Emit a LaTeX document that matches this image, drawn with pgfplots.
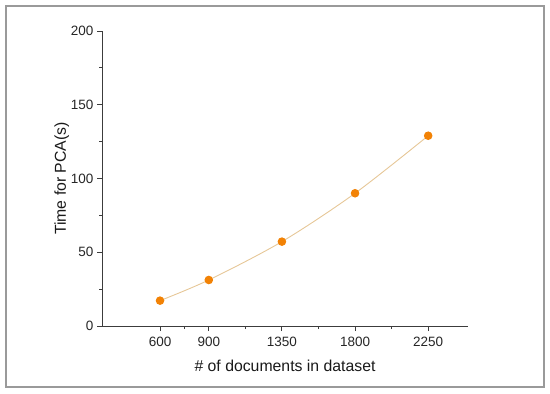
\documentclass[border=0pt]{standalone}
\usepackage{fontspec}
\setmainfont{Liberation Sans}
\usepackage{pgfplots}
\pgfplotsset{compat=1.18}
\definecolor{ptorange}{HTML}{F28205}
\definecolor{linetan}{HTML}{E6C797}
\definecolor{axgray}{HTML}{3C3C3C}
\definecolor{framegray}{HTML}{9A9A9A}

\begin{document}
\begin{tikzpicture}[x=1bp,y=1bp]
\path (0,0) rectangle (550,393);
\draw[framegray, line width=1.2bp] (6,6) rectangle (544,387);
\begin{axis}[
  at={(102bp,67bp)}, anchor=south west,
  scale only axis, width=366bp, height=295bp,
  xmin=243, xmax=2495, ymin=0, ymax=200,
  axis x line*=bottom, axis y line*=left,
  axis line style={axgray, line width=0.9bp},
  tick style={axgray, line width=0.9bp},
  tick align=outside,
  major tick length=5bp, minor tick length=3bp,
  xtick={600,900,1350,1800,2250},
  minor xtick={750,1125,1575,2025},
  ytick={0,50,100,150,200},
  minor ytick={25,75,125,175},
  tick label style={font=\fontsize{13.5bp}{15bp}\selectfont, text=black!85},
  xticklabel style={yshift=-3bp},
  /pgf/number format/assume math mode=true,
  /pgf/number format/set thousands separator={},
  xlabel={\# of documents in dataset},
  ylabel={Time for PCA(s)},
  label style={font=\fontsize{15.8bp}{18bp}\selectfont, text=black!90},
  xlabel style={yshift=-6bp},
  ylabel style={yshift=-5bp},
  clip=false,
]
\addplot[linetan, line width=0.9bp, smooth, mark=*, mark size=3.8bp,
  mark options={draw=ptorange, fill=ptorange}]
  coordinates {(600,17.2) (900,31.2) (1350,57.2) (1800,90.0) (2250,129.0)};
\end{axis}
\end{tikzpicture}
\end{document}
